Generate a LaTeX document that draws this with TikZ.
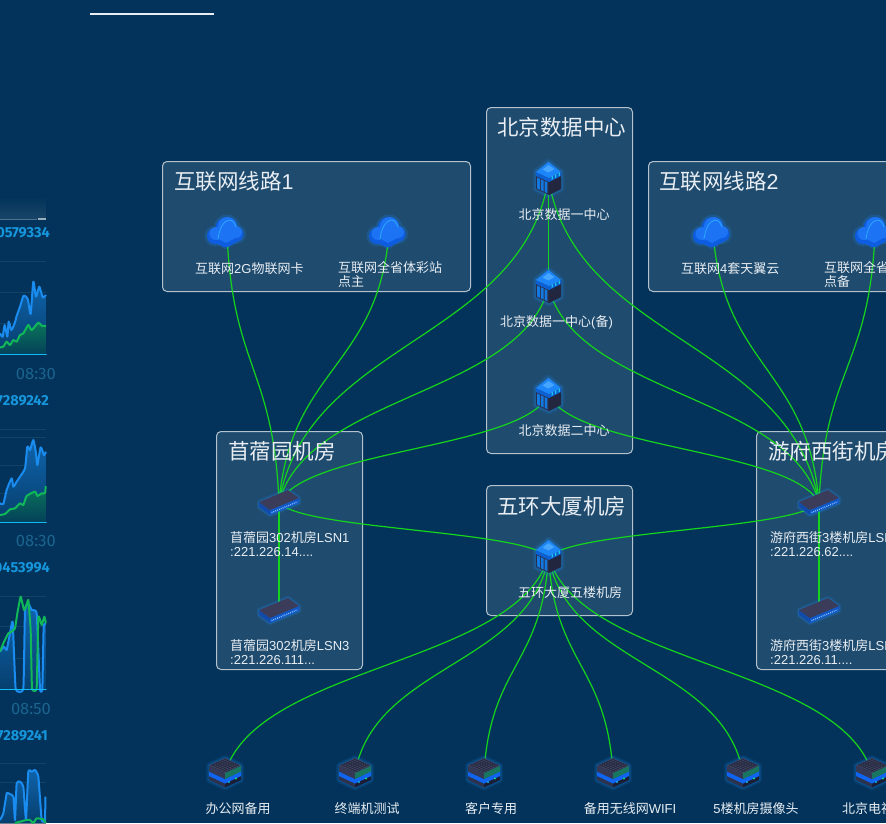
\documentclass[tikz,border=0pt]{standalone}
\usepackage{fontspec}
\setmainfont{Liberation Sans}
\newfontfamily\cjk{Noto Sans CJK SC}
\newfontfamily\dinfont{Fira Sans}
\usetikzlibrary{calc}
\definecolor{bgc}{HTML}{03335A}
\definecolor{boxc}{HTML}{1F4B6E}
\definecolor{boxl}{HTML}{B4C2CE}
\definecolor{linkc}{HTML}{14D41C}
\definecolor{labc}{HTML}{E8EEF3}
\definecolor{idc}{HTML}{1696DC}
\definecolor{timec}{HTML}{1A648F}
\definecolor{gridc}{HTML}{0F4466}
\definecolor{cblue}{HTML}{1A8CF0}
\definecolor{cgreen}{HTML}{10B85A}
\definecolor{glowc}{HTML}{1E90FF}
\definecolor{srvL}{HTML}{282E4A}
\definecolor{srvR}{HTML}{22263E}
\definecolor{srvB}{HTML}{0C60D2}
\definecolor{srvT}{HTML}{1C86F8}
\definecolor{srvH}{HTML}{46A5FF}
\definecolor{srvC}{HTML}{1EC8EB}
\definecolor{srvS}{HTML}{1478E1}
\definecolor{cldA}{HTML}{0E5CE0}
\definecolor{cldB}{HTML}{1C74F4}
\definecolor{cldC}{HTML}{2CA8FF}
\definecolor{swA}{HTML}{124AAA}
\definecolor{swB}{HTML}{1058C8}
\definecolor{swC}{HTML}{3A3C5A}
\definecolor{swD}{HTML}{82BEFF}
\definecolor{stA}{HTML}{2C324C}
\definecolor{stB}{HTML}{1A1E34}
\definecolor{stC}{HTML}{1064F0}
\definecolor{stD}{HTML}{343854}
\definecolor{stE}{HTML}{187660}
\definecolor{stF}{HTML}{404460}
\definecolor{stG}{HTML}{24283E}
\definecolor{stH}{HTML}{14B4E6}
\definecolor{stI}{HTML}{14DC78}
\tikzset{
  x=1pt,y=-1pt,
  groupbox/.style={draw=boxl,line width=1pt,fill=boxc,rounded corners=4.5pt},
  link/.style={draw=linkc,line width=1.2pt},
  titletext/.style={text=labc,font=\fontsize{21.5}{24}\selectfont,inner sep=0pt},
  lab/.style={text=labc,font=\fontsize{13}{14}\selectfont,inner sep=0pt,align=left},
  idtext/.style={text=idc,font=\dinfont\fontsize{14.5}{16}\selectfont\bfseries,inner sep=0pt,anchor=east},
  timetext/.style={text=timec,font=\dinfont\fontsize{16.5}{18}\selectfont,inner sep=0pt,anchor=east},
  gridline/.style={draw=gridc,line width=.8pt},
  axisline/.style={draw=cblue!60!cyan,line width=1pt},
  cbline/.style={draw=cblue,line width=2pt,line join=round},
  cgline/.style={draw=cgreen,line width=2pt,line join=round},
  careab/.style={top color=cblue!55!bgc,bottom color=bgc!88!cblue},
  careag/.style={top color=cgreen!50!bgc,bottom color=bgc!90!cgreen},
  % ---------- server cube
  srvicon/.pic={
    \foreach \w/\o in {7/.10,4/.18}{
      \draw[glowc,fill=glowc,opacity=\o,line width=\w pt,line join=round] (-12.5,-7) -- (0,-17) -- (12.5,-7) -- (12.5,10) -- (0.5,16) -- (-12.5,10) -- cycle;
    }
    \fill[srvL] (-12.5,-7) -- (0.5,-1) -- (0.5,16) -- (-12.5,10) -- cycle;
    \fill[srvR] (0.5,-1) -- (12.5,-7) -- (12.5,10) -- (0.5,16) -- cycle;
    \fill[srvB] (-12.5,-7) -- (0.5,-1) -- (12.5,-7) -- (12.5,-3) -- (0.5,3) -- (-12.5,-3) -- cycle;
    \fill[srvT] (-12.5,-7) -- (0,-17) -- (12.5,-7) -- (0.5,-1) -- cycle;
    \fill[srvH] (-6,-9.5) -- (0,-14) -- (6,-10) -- (0,-6.5) -- cycle;
    \foreach \a in {3,6.5,10}{
      \fill[srvC] (\a,{-1-(\a-.5)*.5}) -- (\a+1.3,{-1-(\a+.8)*.5}) -- (\a+1.3,{2-(\a+.8)*.5}) -- (\a,{2-(\a-.5)*.5}) -- cycle;
    }
    \foreach \a in {-11.5,-7.7,-3.9}{
      \fill[srvS] (\a,{-2+(\a+12.5)*.46}) -- (\a+2.8,{-2+(\a+15.3)*.46}) -- (\a+2.8,{9+(\a+15.3)*.46}) -- (\a,{9+(\a+12.5)*.46}) -- cycle;
    }
  },
  % ---------- cloud
  cloudicon/.pic={
    \begin{scope}[shift={(-2,0)}]
    \fill[glowc,opacity=.2] (2,-5) circle (13.5) (-10,3) circle (10.5) (11,1) circle (10);
    \fill[glowc,opacity=.2,rounded corners=3pt] (-16,6) -- (1,17) -- (19,5) -- (2,-4) -- cycle;
    \fill[cldA] (1.6,-5) circle (11) (-10,3) circle (8) (11,1) circle (7.5);
    \fill[cldA,rounded corners=3pt] (-15.5,7) -- (1,15) -- (16.5,6) -- (3,-4) -- cycle;
    \fill[cldB] (2.5,-6.5) circle (9.5) (-9,0.5) circle (6.5) (11,-1) circle (6);
    \fill[cldB] (-11,3.5) -- (1,10) -- (14,3) -- (3,-8) -- cycle;
    \draw[cldC,line width=.8pt,line cap=round] (-7,6) .. controls (-6,-3) and (-2,-12) .. (4,-13) .. controls (8,-13) and (10,-9) .. (11,-6);
    \end{scope}
  },
  % ---------- flat switch
  swicon/.pic={
    \draw[glowc,fill=glowc,opacity=.10,line width=5pt,line join=round] (-20,-1) -- (9,-13) -- (20,-5) -- (20,0) -- (-9,12) -- (-20,4) -- cycle;
    \draw[glowc,fill=glowc,opacity=.22,line width=2.5pt,line join=round] (-20,-1) -- (9,-13) -- (20,-5) -- (20,0) -- (-9,12) -- (-20,4) -- cycle;
    \fill[swA] (-20,-1) -- (-9,7) -- (-9,12) -- (-20,4) -- cycle;
    \fill[swB] (-9,7) -- (20,-5) -- (20,0) -- (-9,12) -- cycle;
    \fill[swC] (-20,-1) -- (9,-13) -- (20,-5) -- (-9,7) -- cycle;
    \draw[swD,line width=1.2pt,dash pattern=on 1pt off 1pt] (-7.5,9.6) -- (18.5,-1.2);
  },
  % ---------- stacked device
  stkicon/.pic={
    \draw[glowc,fill=glowc,opacity=.10,line width=6pt,line join=round] (-16,-7.5) -- (0,-15) -- (16,-7.5) -- (16,7) -- (0,14.5) -- (-16,7) -- cycle;
    \draw[glowc,fill=glowc,opacity=.18,line width=3pt,line join=round] (-16,-7.5) -- (0,-15) -- (16,-7.5) -- (16,7) -- (0,14.5) -- (-16,7) -- cycle;
    \fill[stA] (-16,3) -- (0,10.5) -- (0,14.5) -- (-16,7) -- cycle;
    \fill[stB] (0,10.5) -- (16,3) -- (16,7) -- (0,14.5) -- cycle;
    \fill[stC] (-16,-1.5) -- (0,6) -- (16,-1.5) -- (16,3) -- (0,10.5) -- (-16,3) -- cycle;
    \fill[stD] (-16,-7.5) -- (0,0) -- (0,6) -- (-16,-1.5) -- cycle;
    \fill[stE] (0,0) -- (16,-7.5) -- (16,-1.5) -- (0,6) -- cycle;
    \fill[stF] (-16,-7.5) -- (0,-15) -- (16,-7.5) -- (0,0) -- cycle;
    \foreach \t in {.15,.3,.45,.6,.75,.9}{
      \draw[stG,line width=.55pt] ({-16+16*\t},{-7.5-7.5*\t}) -- ({16*\t},{-7.5*\t});
      \draw[stG,line width=.55pt] ({16-16*\t},{-7.5-7.5*\t}) -- ({-16*\t},{-7.5*\t});
    }
    \fill[stH] (4,9) circle (1.2);
    \fill[stI] (11,5.5) circle (1.2);
  }
}
\newcommand{\vlink}[2]{%
  \draw[link] let \p1=(#1),\p2=(#2) in (#1) .. controls ({\x1+0.1*(\x2-\x1)},{0.5*\y1+0.5*\y2}) and ({\x2-0.1*(\x2-\x1)},{0.5*\y1+0.5*\y2}) .. (#2);}
\begin{document}
\begin{tikzpicture}
\useasboundingbox (0,0) rectangle (886,823);
\clip (0,0) rectangle (886,823);
\fill[bgc] (0,0) rectangle (886,823);

% top rule
\coordinate (ruleA) at (90,13.5);
\coordinate (ruleB) at (214,13.5);
\draw[draw=labc,line width=2pt] (ruleA) -- (ruleB);

% ---- left charts (drawn in 3x crop units)
\begin{scope}
\clip (0,190) rectangle (46.5,823);
\begin{scope}[shift={(0,190)},scale=.33333]
  \fill[top color=bgc,bottom color=bgc!92!white] (0,20) rectangle (138,85);
  \draw[draw=white!30!bgc,line width=1pt] (0,87) -- (112,87);
  \draw[draw=white!60!bgc,line width=1.4pt] (114,87) -- (138,87);
  \draw[gridline] (0,215) -- (138,215) (0,307) -- (138,307) (0,400) -- (138,400);
  \def\cb{(0,430) (8,440) (14,405) (22,440) (26,395) (34,420) (44,400) (50,378) (60,350) (70,318) (78,320) (84,330) (92,372) (100,275) (108,320) (118,290) (128,322) (138,315)}
  \def\cg{(0,472) (10,470) (20,455) (30,465) (40,450) (50,455) (60,435) (70,430) (85,405) (95,420) (115,398) (125,407) (138,408)}
  \fill[careab] plot[smooth,tension=.35] coordinates {\cb} -- (138,493) -- (0,493) -- cycle;
  \fill[careag] plot[smooth,tension=.35] coordinates {\cg} -- (138,493) -- (0,493) -- cycle;
  \draw[cbline] plot[smooth,tension=.35] coordinates {\cb};
  \draw[cgline] plot[smooth,tension=.35] coordinates {\cg};
  \draw[axisline] (0,493) -- (140,493);
\end{scope}
\begin{scope}[shift={(0,390)},scale=.33333]
  \draw[gridline] (0,118) -- (138,118) (0,142) -- (138,142) (0,225) -- (138,225) (0,310) -- (138,310);
  \def\cb{(0,340) (10,342) (20,300) (35,265) (40,290) (50,275) (60,260) (75,235) (82,170) (90,180) (100,150) (108,190) (112,225) (122,172) (132,195) (138,185)}
  \def\cg{(0,375) (15,372) (30,358) (45,355) (60,340) (70,345) (80,318) (105,305) (112,318) (125,310) (135,310) (137,288)}
  \fill[careab] plot[smooth,tension=.35] coordinates {\cb} -- (138,396) -- (0,396) -- cycle;
  \fill[careag] plot[smooth,tension=.35] coordinates {\cg} -- (138,396) -- (0,396) -- cycle;
  \draw[cbline] plot[smooth,tension=.35] coordinates {\cb};
  \draw[cgline] plot[smooth,tension=.35] coordinates {\cg};
  \draw[axisline] (0,396) -- (140,396);
\end{scope}
\begin{scope}[shift={(0,590)},scale=.33333]
  \draw[gridline] (0,18) -- (138,18) (0,110) -- (138,110) (0,205) -- (138,205);
  \def\cb{(0,185) (12,170) (20,180) (30,130) (38,95) (47,297) (70,297) (75,60) (85,40) (95,60) (110,70) (120,297) (127,297) (131,110) (138,100)}
  \def\cg{(0,185) (10,160) (25,130) (35,125) (45,115) (52,70) (62,20) (72,60) (78,50) (85,30) (92,120) (96,295) (110,295) (115,80) (125,105) (133,80) (138,100)}
  \fill[careab] plot[smooth,tension=.2] coordinates {\cb} -- (138,298) -- (0,298) -- cycle;
  \draw[cbline] plot[smooth,tension=.2] coordinates {\cb};
  \draw[cgline] plot[smooth,tension=.2] coordinates {\cg};
  \draw[axisline] (0,298) -- (140,298);
  \draw[gridline] (0,520) -- (138,520) (0,578) -- (138,578);
  \def\cc{(0,690) (10,670) (20,610) (25,610) (40,620) (45,690) (50,580) (60,575) (70,590) (78,690) (85,545) (95,545) (105,540) (115,560) (125,690) (135,690) (136,620)}
  \def\cd{(45,699) (60,695) (80,690) (90,690) (100,699) (110,685) (130,688) (137,699)}
  \fill[careab] plot[smooth,tension=.25] coordinates {\cc} -- (138,700) -- (0,700) -- cycle;
  \draw[cbline] plot[smooth,tension=.25] coordinates {\cc};
  \draw[cgline] plot[smooth,tension=.25] coordinates {\cd};
\end{scope}
\end{scope}
\node[idtext] (id1) at (50,232.5) {0579334};
\node[idtext] (id2) at (49,400.5) {7289242};
\node[idtext] (id3) at (50,567.5) {0453994};
\node[idtext] (id4) at (48,735.5) {7289241};
\node[timetext] (t1) at (56,374) {08:30};
\node[timetext] (t2) at (56,541) {08:30};
\node[timetext] (t3) at (51,709) {08:50};

% ---- group boxes
\node[groupbox,minimum width=308pt,minimum height=130pt,inner sep=0pt,anchor=north west] (gNet1) at (162,161) {};
\node[groupbox,minimum width=146pt,minimum height=346pt,inner sep=0pt,anchor=north west] (gBj) at (486,107) {};
\node[groupbox,minimum width=308pt,minimum height=130pt,inner sep=0pt,anchor=north west] (gNet2) at (648,161) {};
\node[groupbox,minimum width=146pt,minimum height=238pt,inner sep=0pt,anchor=north west] (gMx) at (216,431) {};
\node[groupbox,minimum width=146pt,minimum height=130pt,inner sep=0pt,anchor=north west] (gWh) at (486,485) {};
\node[groupbox,minimum width=146pt,minimum height=238pt,inner sep=0pt,anchor=north west] (gYf) at (756,431) {};

% ---- device anchor points
\coordinate (c1) at (227,233);
\coordinate (c2) at (389,233);
\coordinate (c3) at (713,233);
\coordinate (c4) at (875,233);
\coordinate (s1) at (548.5,179);
\coordinate (s2) at (548.5,287);
\coordinate (s3) at (548.5,395);
\coordinate (s5) at (548.5,557);
\coordinate (w1) at (279,503);
\coordinate (w2) at (279,611);
\coordinate (w3) at (819,503);
\coordinate (w4) at (819,611);
\coordinate (d1) at (225,773);
\coordinate (d2) at (355,773);
\coordinate (d3) at (484,773);
\coordinate (d4) at (613,773);
\coordinate (d5) at (743,773);
\coordinate (d6) at (872,773);

% ---- connectors
\vlink{c1}{w1} \vlink{c2}{w1} \vlink{s1}{w1} \vlink{s2}{w1} \vlink{s3}{w1}
\vlink{c3}{w3} \vlink{c4}{w3} \vlink{s1}{w3} \vlink{s2}{w3} \vlink{s3}{w3}
\draw[link] (s1) -- (s2);
\draw[link] (w1) -- (w2);
\draw[link] (w3) -- (w4);
\vlink{w1}{s5} \vlink{w3}{s5}
\vlink{s5}{d1} \vlink{s5}{d2} \vlink{s5}{d3} \vlink{s5}{d4} \vlink{s5}{d5} \vlink{s5}{d6}

% ---- icons
\foreach \p in {c1,c2,c3,c4}{\path (\p) pic {cloudicon};}
\foreach \p in {s1,s2,s3,s5}{\path (\p) pic {srvicon};}
\foreach \p in {w1,w2,w3,w4}{\path (\p) pic {swicon};}
\foreach \p in {d1,d2,d3,d4,d5,d6}{\path (\p) pic {stkicon};}

% ---- titles
\node[titletext,anchor=west] (tNet1) at (174,181) {{\cjk 互联网线路}1};
\node[titletext,anchor=west] (tBj) at (497,127) {{\cjk 北京数据中心}};
\node[titletext,anchor=west] (tNet2) at (659,181) {{\cjk 互联网线路}2};
\node[titletext,anchor=west] (tMx) at (228,451) {{\cjk 苜蓿园机房}};
\node[titletext,anchor=west] (tWh) at (497,506) {{\cjk 五环大厦机房}};
\node[titletext,anchor=west] (tYf) at (768,451) {{\cjk 游府西街机房}};

% ---- labels
\node[lab,anchor=center] (ls1) at (564,214.5) {{\cjk 北京数据一中心}};
\node[lab,anchor=center] (ls2) at (556.5,322.5) {{\cjk 北京数据一中心}({\cjk 备})};
\node[lab,anchor=center] (ls3) at (564,430.5) {{\cjk 北京数据二中心}};
\node[lab,anchor=center] (ls5) at (570,592.5) {{\cjk 五环大厦五楼机房}};
\node[lab,anchor=west] (lc1) at (195,268.5) {{\cjk 互联网}2G{\cjk 物联网卡}};
\node[lab,anchor=north west] (lc2) at (338,261.5) {{\cjk 互联网全省体彩站}\\{\cjk 点主}};
\node[lab,anchor=west] (lc3) at (681,268.5) {{\cjk 互联网}4{\cjk 套天翼云}};
\node[lab,anchor=north west] (lc4) at (824,261.5) {{\cjk 互联网全省体彩站}\\{\cjk 点备}};
\node[lab,anchor=north west] (lw1) at (230,531.5) {{\cjk 苜蓿园}302{\cjk 机房}LSN1\\:221.226.14....};
\node[lab,anchor=north west] (lw2) at (230,639.5) {{\cjk 苜蓿园}302{\cjk 机房}LSN3\\:221.226.111...};
\node[lab,anchor=north west] (lw3) at (770,531.5) {{\cjk 游府西街}3{\cjk 楼机房}LSN1\\:221.226.62....};
\node[lab,anchor=north west] (lw4) at (770,639.5) {{\cjk 游府西街}3{\cjk 楼机房}LSN1\\:221.226.11....};
\node[lab,anchor=center] (ld1) at (238,808.5) {{\cjk 办公网备用}};
\node[lab,anchor=center] (ld2) at (367,808.5) {{\cjk 终端机测试}};
\node[lab,anchor=center] (ld3) at (491,808.5) {{\cjk 客户专用}};
\node[lab,anchor=center] (ld4) at (630,808.5) {{\cjk 备用无线网}WIFI};
\node[lab,anchor=center] (ld5) at (756,808.5) {5{\cjk 楼机房摄像头}};
\node[lab,anchor=west] (ld6) at (842,808.5) {{\cjk 北京电视}};
\end{tikzpicture}
\end{document}
